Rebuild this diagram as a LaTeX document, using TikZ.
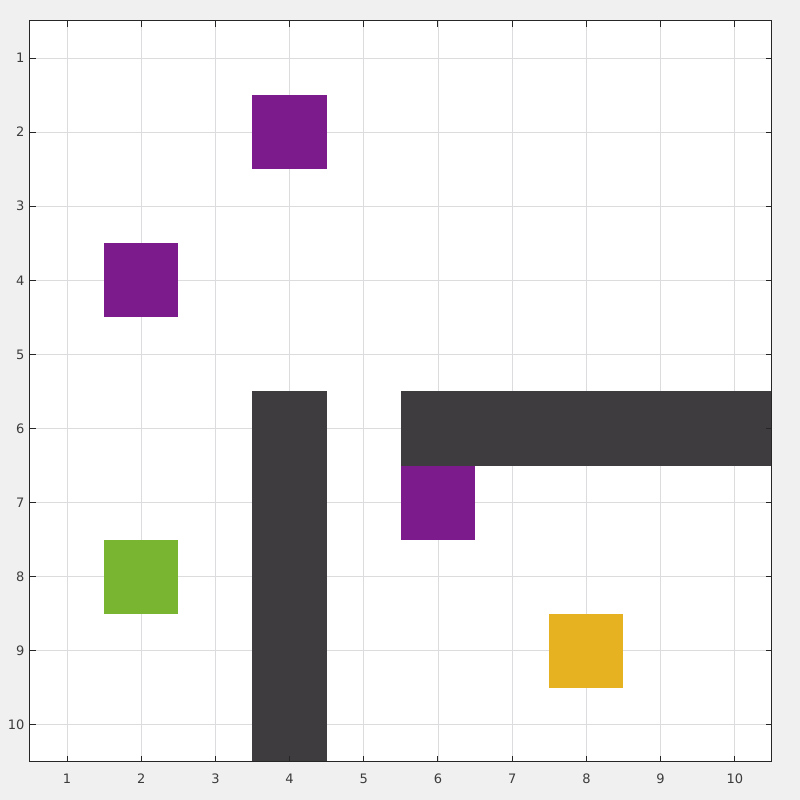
\documentclass[tikz,border=0pt]{standalone}
\usepackage{fontspec}
\setmainfont{DejaVu Sans}
\usetikzlibrary{positioning}
\definecolor{figbg}{RGB}{240,240,240}
\definecolor{axisc}{RGB}{38,38,38}
\definecolor{gridc}{RGB}{220,220,223}
\definecolor{wallc}{RGB}{62,60,62}
\definecolor{agentc}{RGB}{124,28,140}
\definecolor{startc}{RGB}{122,181,50}
\definecolor{goalc}{RGB}{230,178,34}
\tikzset{
  cell/.style     = {draw=none, minimum size=74.2pt, inner sep=0pt, outer sep=0pt},
  gridline/.style = {draw=gridc, line width=0.9pt},
  tickmark/.style = {draw=axisc, line width=1pt},
  frame/.style    = {draw=axisc, line width=1pt},
  ticklbl/.style  = {font=\fontsize{13}{15}\selectfont, text=axisc!90, inner sep=0pt},
}
\begin{document}
\begin{tikzpicture}[x=74.2pt, y=-74.1pt]

% ---- figure background and axes area ----
\fill[figbg] (0.097,0.217) rectangle (10.879,11.013);
\useasboundingbox (0.097,0.217) rectangle (10.879,11.013);
\fill[white] (0.5,0.5) rectangle (10.5,10.5);

% ---- grid ----
\foreach \k in {1,...,10} {
  \draw[gridline] (\k,0.5) -- (\k,10.5);
  \draw[gridline] (0.5,\k) -- (10.5,\k);
}

% ---- walls ----
\fill[wallc] (3.5,5.5) rectangle (4.5,10.5);
\fill[wallc] (5.5,5.5) rectangle (10.5,6.5);

% ---- cells ----
\node[cell, fill=agentc] (agentA) at (4,2) {};
\node[cell, fill=agentc] (agentB) at (2,4) {};
\node[cell, fill=agentc] (agentC) at (6,7) {};
\node[cell, fill=startc] (start) at (2,8) {};
\node[cell, fill=goalc] (goal) at (8,9) {};

% ---- ticks and labels ----
\foreach \k in {1,...,10} {
  \draw[tickmark] (\k,10.5) -- ++(0,-0.08);
  \draw[tickmark] (\k,0.5) -- ++(0,0.08);
  \draw[tickmark] (0.5,\k) -- ++(0.08,0);
  \draw[tickmark] (10.5,\k) -- ++(-0.08,0);
  \node[ticklbl, anchor=north] (xl\k) at (\k,10.66) {\k};
  \node[ticklbl, anchor=east] (yl\k) at (0.43,\k) {\k};
}

% ---- frame ----
\draw[frame] (0.5,0.5) rectangle (10.5,10.5);

\end{tikzpicture}
\end{document}
